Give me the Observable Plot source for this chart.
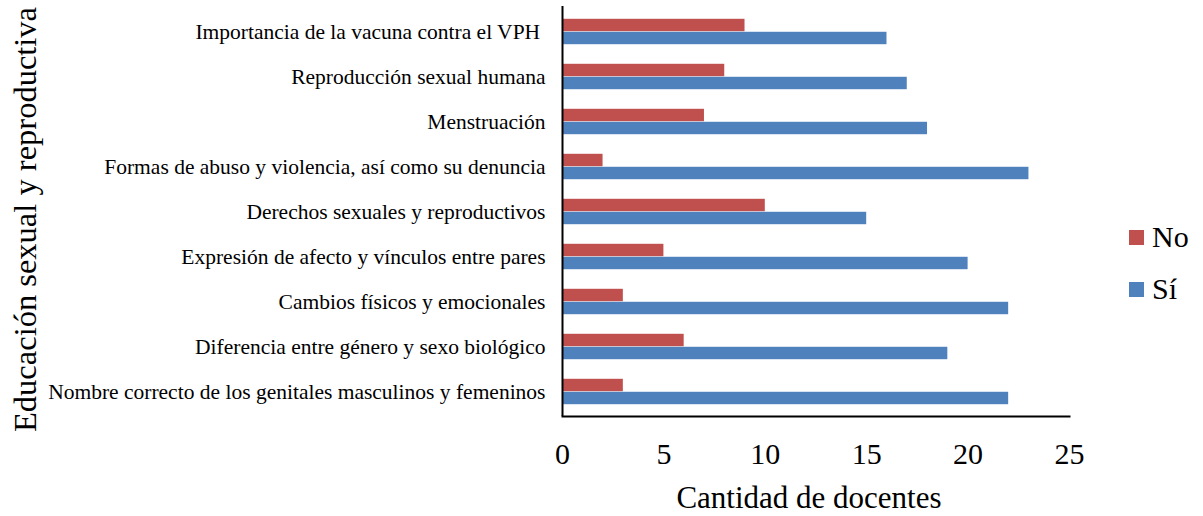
<!DOCTYPE html>
<html>
<head>
<meta charset="utf-8">
<script src="https://cdn.jsdelivr.net/npm/d3@7"></script>
<script src="https://cdn.jsdelivr.net/npm/@observablehq/plot@0.6"></script>
<style>
  body { margin: 0; background: #fff; }
  #wrap { position: relative; width: 1203px; height: 516px; font-family: "Liberation Serif", "Times New Roman", serif; }
  #legend { position: absolute; left: 1129px; top: 222px; font-size: 30px; color: #000; }
  .item { display: flex; align-items: center; height: 30px; margin-bottom: 22px; }
  .sw { width: 15px; height: 15px; margin-right: 8px; }
</style>
</head>
<body>
<div id="wrap"></div>
<script>
const categories = [
  "Importancia de la vacuna contra el VPH ",
  "Reproducción sexual humana",
  "Menstruación",
  "Formas de abuso y violencia, así como su denuncia",
  "Derechos sexuales y reproductivos",
  "Expresión de afecto y vínculos entre pares",
  "Cambios físicos y emocionales",
  "Diferencia entre género y sexo biológico",
  "Nombre correcto de los genitales masculinos y femeninos"
];
const noValues = [9, 8, 7, 2, 10, 5, 3, 6, 3];
const siValues = [16, 17, 18, 23, 15, 20, 22, 19, 22];
const series = ["No", "Sí"];
const colors = ["#C0504D", "#4F81BD"];
const xTicks = [0, 5, 10, 15, 20, 25];
const xTitle = "Cantidad de docentes";
const yTitle = "Educación sexual y reproductiva";

const W = 1203, H = 516;
const mTop = 6, mBottom = 100, mLeft = 562, mRight = 134;
const step = (H - mTop - mBottom) / categories.length;
const barH = step * 0.285;
const outer = (step - 2 * barH) / 2;

const rows = [];
categories.forEach((c, i) => {
  rows.push({cat: c, series: "No", value: noValues[i]});
  rows.push({cat: c, series: "Sí", value: siValues[i]});
});

const font = '"Liberation Serif", "Times New Roman", serif';

const chart = Plot.plot({
  width: W,
  height: H,
  marginTop: mTop,
  marginBottom: mBottom,
  marginLeft: mLeft,
  marginRight: mRight,
  style: {fontFamily: font, background: "#fff", color: "#000"},
  x: {domain: [0, 25]},
  y: {domain: categories, padding: 0},
  color: {domain: series, range: colors},
  marks: [
    Plot.barX(rows.filter(d => d.series === "No"), {
      x: "value", y: "cat", fill: "series",
      insetTop: outer, insetBottom: outer + barH
    }),
    Plot.barX(rows.filter(d => d.series === "Sí"), {
      x: "value", y: "cat", fill: "series",
      insetTop: outer + barH, insetBottom: outer
    }),
    Plot.axisY({tickSize: 0, tickPadding: 17, fontSize: 21.5, label: null}),
    Plot.axisX({ticks: xTicks, tickSize: 0, tickPadding: 26, fontSize: 30, label: null}),
    Plot.ruleX([0], {stroke: "#000", strokeWidth: 2}),
    Plot.frame({anchor: "bottom", stroke: "#000", strokeWidth: 2})
  ]
});

const svg = d3.select(chart);
svg.append("text")
  .attr("transform", "translate(36,432) rotate(-90)")
  .attr("text-anchor", "start")
  .attr("font-size", 32.5)
  .attr("font-family", font)
  .attr("fill", "#000")
  .text(yTitle);
svg.append("text")
  .attr("x", 809)
  .attr("y", 508)
  .attr("text-anchor", "middle")
  .attr("font-size", 31)
  .attr("font-family", font)
  .attr("fill", "#000")
  .text(xTitle);

const wrap = document.getElementById("wrap");
wrap.appendChild(chart);

const legend = document.createElement("div");
legend.id = "legend";
series.forEach((s, i) => {
  const item = document.createElement("div");
  item.className = "item";
  const sw = document.createElement("div");
  sw.className = "sw";
  sw.style.background = colors[i];
  const t = document.createElement("span");
  t.textContent = s;
  item.appendChild(sw);
  item.appendChild(t);
  legend.appendChild(item);
});
wrap.appendChild(legend);
</script>
</body>
</html>
